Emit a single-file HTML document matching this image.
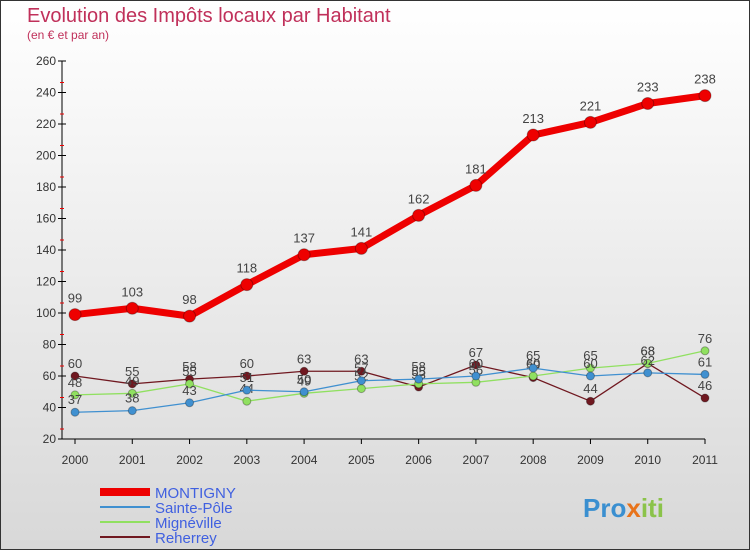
<!DOCTYPE html>
<html><head><meta charset="utf-8"><style>
body{margin:0;}
#c{width:750px;height:550px;position:relative;overflow:hidden;font-family:"Liberation Sans",sans-serif;}
</style></head><body>
<div id="c">
<svg id="s" width="750" height="550" xmlns="http://www.w3.org/2000/svg">
<defs><linearGradient id="bg" x1="0" y1="0" x2="0" y2="1"><stop offset="0" stop-color="#ffffff"/><stop offset="1" stop-color="#d8d8d8"/></linearGradient></defs>
<rect x="0.5" y="0.5" width="749" height="549" fill="url(#bg)" stroke="#333"/>
<text x="27" y="22" font-size="20" fill="#c0305a">Evolution des Impôts locaux par Habitant</text>
<text x="27" y="39" font-size="12" fill="#c0305a">(en € et par an)</text>
<g id="axes"></g><g id="series"></g><g id="legend"></g>
<text x="583" y="517" font-size="26" font-weight="bold" fill="#3a8fd0">Pro<tspan fill="#e8731a">x</tspan><tspan fill="#8bc34a">iti</tspan></text>
</svg>
</div>
<script>
const years=["2000","2001","2002","2003","2004","2005","2006","2007","2008","2009","2010","2011"];
const yTicks=[20,40,60,80,100,120,140,160,180,200,220,240,260];
const montigny=[99,103,98,118,137,141,162,181,213,221,233,238];
const saintePole=[37,38,43,51,50,57,58,60,65,60,62,61];
const mignevile=[48,49,55,44,49,52,55,56,60,65,68,76];
const reherrey=[60,55,58,60,63,63,53,67,59,44,68,46];
const NS="http://www.w3.org/2000/svg";
function X(i){return 75+i*(630/11);}
function Y(v){return 439-(v-20)*(378/240);}
function mk(tag,attrs,parent,text){const e=document.createElementNS(NS,tag);for(const k in attrs)e.setAttribute(k,attrs[k]);if(text!==undefined)e.textContent=text;parent.appendChild(e);return e;}
const ax=document.getElementById('axes');
let a=mk('line',{x1:62,y1:61,x2:62,y2:439,stroke:'#000'},ax);


yTicks.forEach((t,i)=>{
 const y=Y(t);
 mk('line',{x1:58,y1:y,x2:66,y2:y,stroke:'#000'},ax);
 if(i<yTicks.length-1){mk('line',{x1:60,y1:y-10,x2:64,y2:y-10,stroke:'#e00'},ax);}
 const tx=mk('text',{x:56,y:y+4,'font-size':12,fill:'#333','text-anchor':'end'},ax,String(t));
 
 
});
a=mk('line',{x1:62,y1:439,x2:705,y2:439,stroke:'#000'},ax);


years.forEach((yr,i)=>{
 mk('line',{x1:X(i),y1:439,x2:X(i),y2:444,stroke:'#000'},ax);
 const tx=mk('text',{x:X(i),y:464,'font-size':12,fill:'#333','text-anchor':'middle'},ax,yr);
 
 
});
const sg=document.getElementById('series');
function series(vals,color,w,r,name){
 const g=mk('g',{},sg);
 
 
 mk('polyline',{points:vals.map((v,i)=>X(i)+','+Y(v)).join(' '),fill:'none',stroke:color,'stroke-width':w,'stroke-linejoin':'round'},g);
 vals.forEach((v,i)=>{
  const c=mk('circle',{cx:X(i),cy:Y(v),r:r,fill:color,stroke:'rgba(0,0,0,0.3)'},g);
  
  
  const t=mk('text',{x:X(i),y:Y(v)-(w>3?12:8),'font-size':13,fill:'#444','text-anchor':'middle'},g,String(v));
  
  
 });
}
series(reherrey,'#701820',1.3,4,'reherrey');
series(mignevile,'#90e060',1.3,4,'mignevile');
series(saintePole,'#4090d0',1.3,4,'sainte-pole');
series(montigny,'#ee0000',7,6,'montigny');
const lg=document.getElementById('legend');
const L=[["MONTIGNY","#ee0000",8],["Sainte-Pôle","#4090d0",2],["Mignéville","#90e060",2],["Reherrey","#701820",2]];
L.forEach((l,i)=>{
 const y=492+i*15;
 const g=mk('g',{},lg);
 
 
 mk('line',{x1:100,y1:y,x2:150,y2:y,stroke:l[1],'stroke-width':l[2]},g);
 mk('text',{x:155,y:y+6,'font-size':15,fill:'#4060e0'},g,l[0]);
});
</script>
</body></html>
